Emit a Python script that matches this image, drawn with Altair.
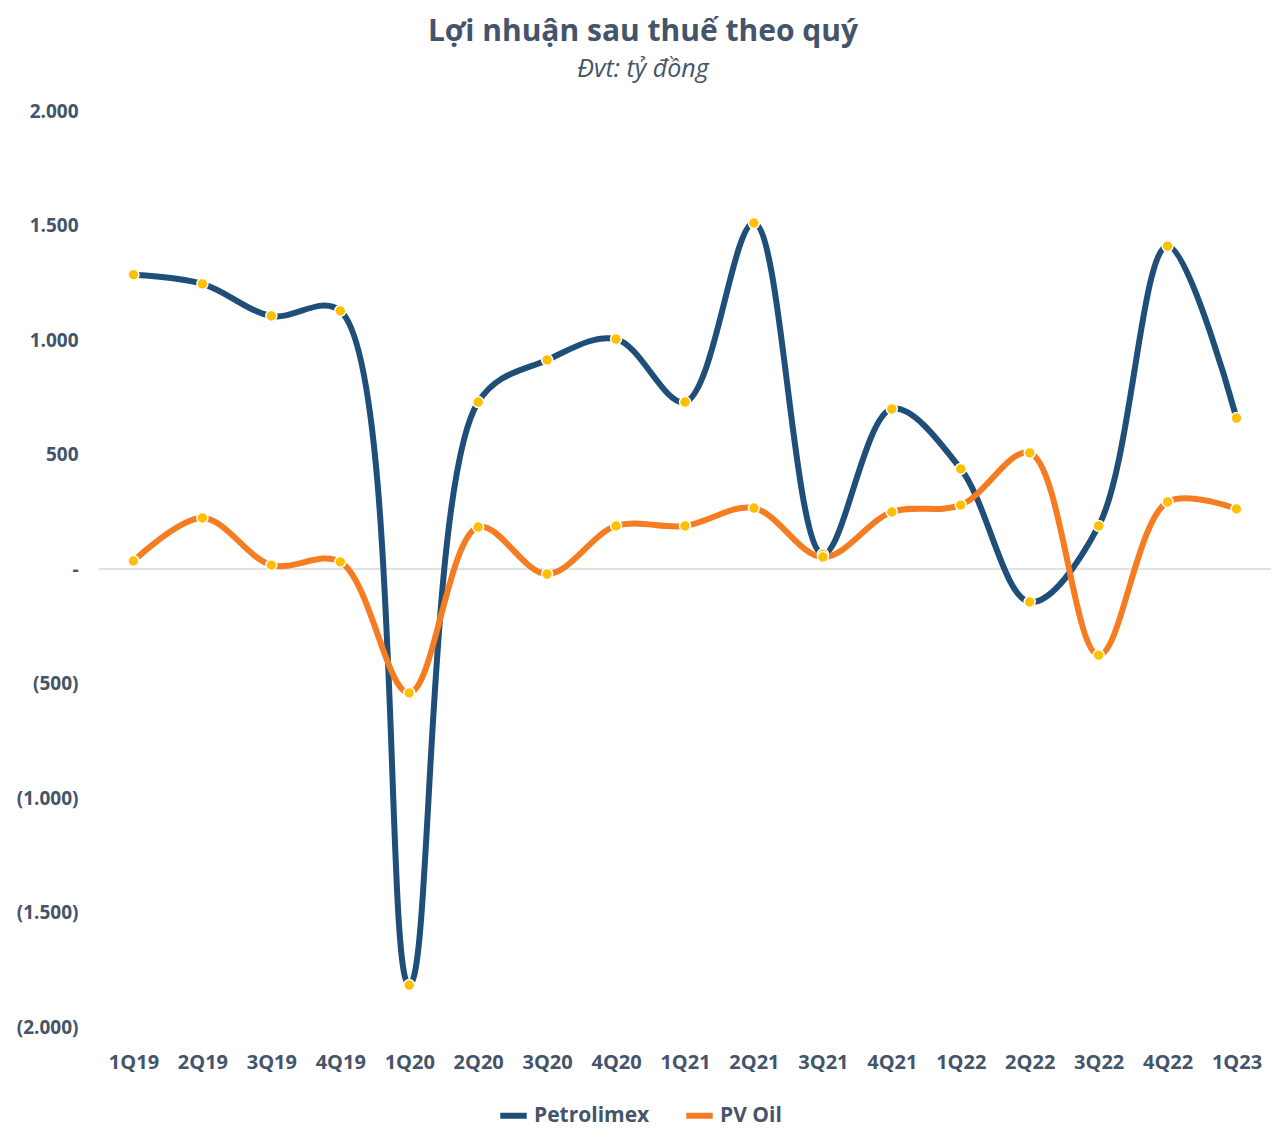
import altair as alt
import pandas as pd

quarters = ["1Q19", "2Q19", "3Q19", "4Q19", "1Q20", "2Q20", "3Q20", "4Q20", "1Q21",
            "2Q21", "3Q21", "4Q21", "1Q22", "2Q22", "3Q22", "4Q22", "1Q23"]
petrolimex = [1285, 1245, 1105, 1127, -1817, 729, 913, 1004, 729,
              1511, 65, 699, 437, -144, 188, 1410, 659]
pvoil = [35, 223, 17, 31, -541, 183, -22, 188, 188,
         266, 52, 249, 279, 507, -376, 293, 262]
series = ["Petrolimex", "PV Oil"]
colors = ["#1F4E79", "#F57C20"]

rows = []
for q, a, b in zip(quarters, petrolimex, pvoil):
    rows.append({"q": q, "series": series[0], "v": a})
    rows.append({"q": q, "series": series[1], "v": b})
df = pd.DataFrame(rows)

TXT = "#44546A"
FONT = "Open Sans"

x = alt.X("q:N", sort=quarters, title=None,
          scale=alt.Scale(paddingInner=0, paddingOuter=0.5),
          axis=alt.Axis(labelAngle=0, labelFontSize=20, labelFontWeight="bold",
                        labelColor=TXT, labelFont=FONT, domain=False, ticks=False,
                        labelPadding=25, grid=False))
y = alt.Y("v:Q", title=None,
          scale=alt.Scale(domain=[-2000, 2000], nice=False),
          axis=alt.Axis(values=[-2000, -1500, -1000, -500, 0, 500, 1000, 1500, 2000],
                        labelExpr="datum.value == 0 ? '-' : (datum.value < 0 ? '(' + replace(format(-datum.value, ','), ',', '.') + ')' : replace(format(datum.value, ','), ',', '.'))",
                        labelFontSize=19, labelFontWeight="bold", labelColor=TXT,
                        labelFont=FONT, domain=False, ticks=False, grid=False,
                        labelPadding=21))

color = alt.Color("series:N", sort=series,
                  scale=alt.Scale(domain=series, range=colors),
                  legend=alt.Legend(title=None, orient="none", direction="horizontal",
                                    legendX=398, legendY=988,
                                    symbolType="stroke", symbolStrokeWidth=6,
                                    symbolSize=700, labelFontSize=21,
                                    labelFontWeight="bold", labelColor=TXT,
                                    labelFont=FONT, columnPadding=24,
                                    labelOffset=4))

zero = alt.Chart(pd.DataFrame({"z": [0]})).mark_rule(color="#D9D9D9", strokeWidth=1.5).encode(y="z:Q")

lines = alt.Chart(df).mark_line(interpolate="catmull-rom", strokeWidth=6, strokeCap="round").encode(
    x=x, y=y, color=color, detail="series:N")

points = alt.Chart(df).mark_point(filled=True, size=120, color="#FFC000",
                                  stroke="#FFFFFF", strokeWidth=1.5, opacity=1).encode(
    x=x, y=y, detail="series:N")

chart = alt.layer(zero, lines, points).properties(
    width=1172, height=916,
    autosize=alt.AutoSizeParams(type="none"),
    padding={"left": 91, "top": 103, "right": 7, "bottom": 115},
    title=alt.TitleParams(text="Lợi nhuận sau thuế theo quý", subtitle="Đvt: tỷ đồng",
                          fontSize=30, fontWeight="bold", color=TXT, font=FONT,
                          subtitleFontSize=25, subtitleFontStyle="italic",
                          subtitleColor=TXT, subtitleFont=FONT, subtitlePadding=10,
                          anchor="middle", dx=-42, offset=20),
).configure_view(stroke=None)

chart.save("out.html", embed_options={"renderer": "svg", "actions": False})
